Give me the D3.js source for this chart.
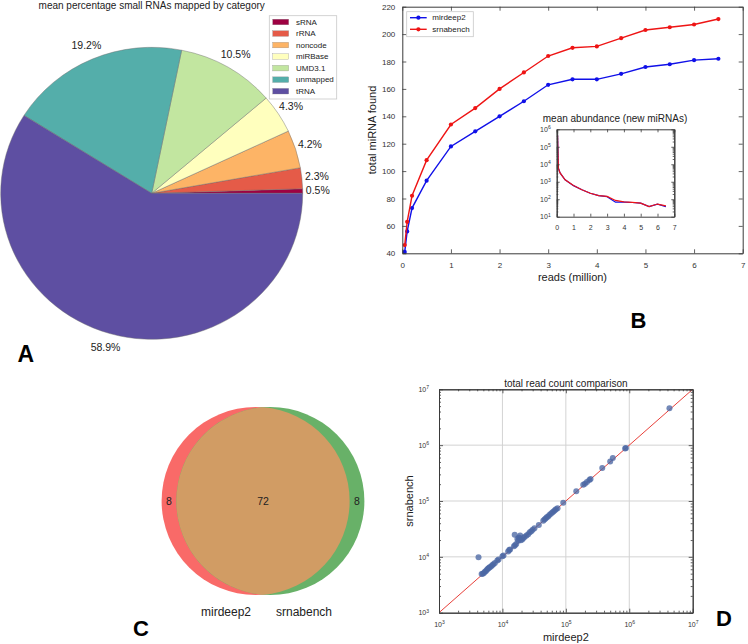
<!DOCTYPE html>
<html><head><meta charset="utf-8">
<script src="https://cdn.jsdelivr.net/npm/d3@7"></script>
<style>
body{margin:0;background:#fff}
text{font-family:"Liberation Sans",Arial,Helvetica,sans-serif}
</style>
</head><body>
<svg id="c" width="748" height="644"></svg>
<script>
// ---------- DATA ----------
// Panel A
const pieCategories = ["sRNA","rRNA","noncode","miRBase","UMD3.1","unmapped","tRNA"];
const piePercents   = [0.5, 2.3, 4.2, 4.3, 10.5, 19.2, 58.9];
const pieColors     = ["#9e0142","#e55b48","#fdb466","#ffffbe","#c2e6a0","#54aeaa","#5e4fa2"];
const pieTitle = "mean percentage small RNAs mapped by category";

// Panel B
const readsMillion   = [0.05,0.1,0.2,0.5,1,1.5,2,2.5,3,3.5,4,4.5,5,5.5,6,6.5];
const mirdeep2Found  = [41,56,73,93,118,129,140,151,163,167,167,171,176,178,181,182];
const srnabenchFound = [46,63,82,108,134,146,160,172,184,190,191,197,203,205,207,211];
const mirdeep2Abund  = [450000,6000,3200,1300,600,350,220,160,140,68,68,65,60,38,52,38];
const srnabenchAbund = [450000,6000,3200,1300,610,350,220,160,145,85,70,66,60,38,53,42];
const bXTicks = [0,1,2,3,4,5,6,7];
const bYTicks = [40,60,80,100,120,140,160,180,200,220];
const insetXTicks = [0,1,2,3,4,5,6,7];
const insetYTicks = [10,100,1000,10000,100000,1000000];
const seriesNames = ["mirdeep2","srnabench"];
const seriesColors = ["#1010e8","#ee1414"];

// Panel C
const vennLabels = ["mirdeep2","srnabench"];
const vennRegionCounts = [8, 72, 8]; // left only, both, right only
const vennColors = ["#f96a68","#d19c64","#68b168"];

// Panel D
const scatterMirdeep2 = [4200,4700,4900,5100,5300,5500,5700,5900,6100,6300,6600,6900,7200,7600,8300,8700,
  10000,10400,12300,12800,13200,15200,15800,16500,15600,17200,18200,19000,18700,17800,
  19500,20500,21500,22500,24000,25500,27000,28500,30000,32000,37500,
  44000,46000,48000,50000,52500,55000,58000,61000,64000,67000,70000,74000,91000,
  146000,188000,200000,215000,235000,245000,375000,500000,550000,860000,885000,4300000];
const scatterSrnabench = [9800,4950,5000,5150,5400,5600,5900,6100,6300,6500,6700,7100,7400,7800,8600,9000,
  10300,10600,12500,13200,13600,15500,16200,17000,24800,20800,22300,24000,21500,19500,
  19800,20500,21800,22800,24200,25500,27500,28800,30500,32500,37000,
  44500,46500,48500,51000,53000,56000,59000,62000,65000,68000,71000,74500,93000,
  150000,195000,203000,220000,238000,248000,390000,510000,590000,870000,890000,4600000];
const dTicks = [1e3,1e4,1e5,1e6,1e7];

// ---------- DRAW ----------
const svg = d3.select("#c");
const AX = "#3a3a3a", TX = "#333";
const intFmt = d3.format("d");

function styleAxis(g, fs){
  g.select(".domain").attr("stroke", AX).attr("stroke-width", 1);
  g.selectAll(".tick line").attr("stroke", AX).attr("stroke-width", 0.8);
  g.selectAll(".tick text").attr("fill", TX).attr("font-size", fs).attr("font-family", '"Liberation Sans",Arial,sans-serif');
}
function supLabels(g){
  g.selectAll(".tick text").each(function(d){
    const t = d3.select(this); t.text("");
    t.append("tspan").text("10");
    t.append("tspan").attr("dy","-0.55em").attr("font-size","0.72em").text(Math.round(Math.log10(d)));
  });
}

// ===== Panel A: pie =====
(function(){
  const cx = 151.7, cy = 193.3, rx = 151, ry = 146;
  const pie = d3.pie().sort(null).value(d=>d).startAngle(Math.PI/2).endAngle(Math.PI/2 - 2*Math.PI);
  const arcs = pie(piePercents);
  const arc = d3.arc().innerRadius(0).outerRadius(rx);
  const g = svg.append("g").attr("transform", `translate(${cx},${cy}) scale(1,${ry/rx})`);
  g.selectAll("path").data(arcs).join("path")
    .attr("d", arc).attr("fill", (d,i)=>pieColors[i])
    .attr("stroke", "#6e6e6e").attr("stroke-width", 0.45);
  svg.append("g").selectAll("text").data(arcs).join("text")
    .attr("x", d => cx + Math.sin((d.startAngle+d.endAngle)/2)*rx*1.1)
    .attr("y", d => cy - Math.cos((d.startAngle+d.endAngle)/2)*ry*1.1)
    .attr("dy","0.35em").attr("text-anchor","middle").attr("font-size", 10.5).attr("fill", "#222")
    .text(d => d.data.toFixed(1) + "%");
  svg.append("text").attr("x", 151.7).attr("y", 8.8).attr("text-anchor","middle")
    .attr("font-size", 10).attr("fill","#222").text(pieTitle);
  // legend
  const lg = svg.append("g").attr("transform","translate(269.3,15.7)");
  lg.append("rect").attr("width",67.4).attr("height",83.3).attr("fill","#fff").attr("stroke","#c8c8c8").attr("stroke-width",0.8);
  const rowY = d3.scaleLinear().domain([0, pieCategories.length-1]).range([6.3, 75.5]);
  pieCategories.forEach((c,i)=>{
    lg.append("rect").attr("x",3.4).attr("y",rowY(i)-2.8).attr("width",16).attr("height",5.6)
      .attr("fill",pieColors[i]).attr("stroke","#888").attr("stroke-width",0.3);
    lg.append("text").attr("x",26.7).attr("y",rowY(i)).attr("dy","0.35em").attr("font-size",8).attr("fill","#222").text(c);
  });
  svg.append("text").attr("x",17.5).attr("y",362).attr("font-size",23).attr("font-weight","bold").attr("fill","#000").text("A");
})();

// ===== Panel B =====
(function(){
  const L = 402.3, R = 742.7, T = 6.7, B = 253.3;
  const x = d3.scaleLinear().domain([0,7]).range([L,R]);
  const y = d3.scaleLinear().domain([40,220]).range([B,T]);
  const g = svg.append("g");
  g.append("rect").attr("x",L).attr("y",T).attr("width",R-L).attr("height",B-T).attr("fill","#fff");
  const series = [mirdeep2Found, srnabenchFound];
  const line = d3.line().x((d,i)=>x(readsMillion[i])).y(d=>y(d));
  series.forEach((s,k)=>{
    g.append("path").datum(s).attr("d", line).attr("fill","none").attr("stroke",seriesColors[k]).attr("stroke-width",1.4);
    g.append("g").selectAll("circle").data(s).join("circle")
      .attr("cx",(d,i)=>x(readsMillion[i])).attr("cy",d=>y(d)).attr("r",2.1).attr("fill",seriesColors[k]);
  });
  const ax = [
    g.append("g").attr("transform",`translate(0,${B})`).call(d3.axisBottom(x).tickValues(bXTicks).tickFormat(intFmt).tickSize(-4).tickSizeOuter(0).tickPadding(9)),
    g.append("g").attr("transform",`translate(${L},0)`).call(d3.axisLeft(y).tickValues(bYTicks).tickFormat(intFmt).tickSize(-4).tickSizeOuter(0).tickPadding(7)),
    g.append("g").attr("transform",`translate(0,${T})`).call(d3.axisTop(x).tickValues(bXTicks).tickSize(-4).tickSizeOuter(0).tickFormat("")),
    g.append("g").attr("transform",`translate(${R},0)`).call(d3.axisRight(y).tickValues(bYTicks).tickSize(-4).tickSizeOuter(0).tickFormat(""))
  ];
  ax.forEach(a=>styleAxis(a, 8));
  svg.append("text").attr("x",(L+R)/2).attr("y",280.5).attr("text-anchor","middle").attr("font-size",11).attr("fill","#222").text("reads (million)");
  svg.append("text").attr("transform",`translate(375.5,${(T+B)/2}) rotate(-90)`).attr("text-anchor","middle").attr("font-size",11).attr("fill","#222").text("total miRNA found");
  // legend
  const lg = svg.append("g").attr("transform","translate(406.7,11.7)");
  lg.append("rect").attr("width",66.6).attr("height",25).attr("fill","#fff").attr("stroke","#c8c8c8").attr("stroke-width",0.8);
  seriesNames.forEach((n,k)=>{
    const yy = 6 + k*11.6;
    lg.append("line").attr("x1",3.3).attr("x2",20).attr("y1",yy).attr("y2",yy).attr("stroke",seriesColors[k]).attr("stroke-width",1.4);
    lg.append("circle").attr("cx",11.7).attr("cy",yy).attr("r",2.1).attr("fill",seriesColors[k]);
    lg.append("text").attr("x",25.6).attr("y",yy).attr("dy","0.35em").attr("font-size",8).attr("fill","#222").text(n);
  });
  // inset
  const iL = 556.7, iR = 674.3, iT = 129.3, iB = 216.7;
  const ix = d3.scaleLinear().domain([0,7]).range([iL,iR]);
  const iy = d3.scaleLog().domain([10,1e6]).range([iB,iT]);
  const ig = svg.append("g");
  ig.append("rect").attr("x",iL).attr("y",iT).attr("width",iR-iL).attr("height",iB-iT).attr("fill","#fff");
  const iline = d3.line().x((d,i)=>ix(readsMillion[i])).y(d=>iy(d)).curve(d3.curveLinear);
  [mirdeep2Abund, srnabenchAbund].forEach((s,k)=>{
    ig.append("path").datum(s).attr("d", iline).attr("fill","none").attr("stroke",seriesColors[k]).attr("stroke-width",1.2);
  });
  const minors = iy.ticks().filter(v => !insetYTicks.includes(v));
  const ia = [
    ig.append("g").attr("transform",`translate(0,${iB})`).call(d3.axisBottom(ix).tickValues(insetXTicks).tickFormat(intFmt).tickSize(-3).tickSizeOuter(0).tickPadding(8)),
    ig.append("g").attr("transform",`translate(${iL},0)`).call(d3.axisLeft(iy).tickValues(insetYTicks).tickSize(-3).tickSizeOuter(0).tickPadding(6)),
    ig.append("g").attr("transform",`translate(0,${iT})`).call(d3.axisTop(ix).tickValues(insetXTicks).tickSize(-3).tickSizeOuter(0).tickFormat("")),
    ig.append("g").attr("transform",`translate(${iR},0)`).call(d3.axisRight(iy).tickValues(insetYTicks).tickSize(-3).tickSizeOuter(0).tickFormat("")),
    ig.append("g").attr("transform",`translate(${iL},0)`).call(d3.axisLeft(iy).tickValues(minors).tickSize(-1.6).tickSizeOuter(0).tickFormat("")),
    ig.append("g").attr("transform",`translate(${iR},0)`).call(d3.axisRight(iy).tickValues(minors).tickSize(-1.6).tickSizeOuter(0).tickFormat(""))
  ];
  ia.forEach(a=>styleAxis(a, 7));
  supLabels(ia[1]);
  svg.append("text").attr("x",615).attr("y",121.5).attr("text-anchor","middle").attr("font-size",10).attr("fill","#222").text("mean abundance (new miRNAs)");
  svg.append("text").attr("x",630.5).attr("y",328).attr("font-size",22).attr("font-weight","bold").attr("fill","#000").text("B");
})();

// ===== Panel C: Venn =====
(function(){
  const cx = 263, cy = 501, r = 94;
  const frac = vennRegionCounts[1] / (vennRegionCounts[0] + vennRegionCounts[1]);
  const lensFrac = d => { const u = d/(2*r); return (2*Math.acos(u) - 2*u*Math.sqrt(1-u*u)) / Math.PI; };
  let lo = 0, hi = 2*r;
  for (let i=0;i<60;i++){ const m=(lo+hi)/2; if (lensFrac(m) > frac) lo = m; else hi = m; }
  const d = (lo+hi)/2;
  const c1 = cx - d/2, c2 = cx + d/2, h = Math.sqrt(r*r - (d/2)*(d/2));
  const g = svg.append("g");
  g.append("circle").attr("cx",c1).attr("cy",cy).attr("r",r).attr("fill",vennColors[0]);
  g.append("circle").attr("cx",c2).attr("cy",cy).attr("r",r).attr("fill",vennColors[2]);
  const p = d3.path();
  p.moveTo(cx, cy-h);
  p.arc(c1, cy, r, Math.atan2(-h, d/2), Math.atan2(h, d/2), false);
  p.arc(c2, cy, r, Math.atan2(h, -d/2), Math.atan2(-h, -d/2), false);
  p.closePath();
  g.append("path").attr("d", p.toString()).attr("fill", vennColors[1]);
  const labX = [(c1 - r + (c2 - r))/2, cx, (c1 + r + (c2 + r))/2];
  vennRegionCounts.forEach((v,i)=>{
    g.append("text").attr("x",labX[i]).attr("y",cy).attr("dy","0.35em").attr("text-anchor","middle")
      .attr("font-size",10.5).attr("fill","#222").text(v);
  });
  g.append("text").attr("x",226).attr("y",615.5).attr("text-anchor","middle").attr("font-size",12).attr("fill","#222").text(vennLabels[0]);
  g.append("text").attr("x",304).attr("y",615.5).attr("text-anchor","middle").attr("font-size",12).attr("fill","#222").text(vennLabels[1]);
  svg.append("text").attr("x",133).attr("y",635.5).attr("font-size",22).attr("font-weight","bold").attr("fill","#000").text("C");
})();

// ===== Panel D: scatter =====
(function(){
  const L = 439, R = 692.7, T = 389.3, B = 612.7;
  const x = d3.scaleLog().domain([1e3,1e7]).range([L,R]);
  const y = d3.scaleLog().domain([1e3,1e7]).range([B,T]);
  const g = svg.append("g");
  g.append("rect").attr("x",L).attr("y",T).attr("width",R-L).attr("height",B-T).attr("fill","#fff");
  g.append("g").selectAll("line").data(dTicks.slice(1,-1)).join("line")
    .attr("x1",d=>x(d)).attr("x2",d=>x(d)).attr("y1",T).attr("y2",B).attr("stroke","#d3d3d3").attr("stroke-width",1);
  g.append("g").selectAll("line").data(dTicks.slice(1,-1)).join("line")
    .attr("y1",d=>y(d)).attr("y2",d=>y(d)).attr("x1",L).attr("x2",R).attr("stroke","#d3d3d3").attr("stroke-width",1);
  g.append("line").attr("x1",x(1e3)).attr("y1",y(1e3)).attr("x2",x(1e7)).attr("y2",y(1e7)).attr("stroke","#e8403a").attr("stroke-width",1);
  g.append("g").selectAll("circle").data(scatterMirdeep2).join("circle")
    .attr("cx",d=>x(d)).attr("cy",(d,i)=>y(scatterSrnabench[i])).attr("r",3)
    .attr("fill","#4c68a4").attr("fill-opacity",0.78);
  const minors = x.ticks().filter(v => !dTicks.includes(v));
  const da = [
    g.append("g").attr("transform",`translate(0,${B})`).call(d3.axisBottom(x).tickValues(dTicks).tickSize(-4).tickSizeOuter(0).tickPadding(9)),
    g.append("g").attr("transform",`translate(${L},0)`).call(d3.axisLeft(y).tickValues(dTicks).tickSize(-4).tickSizeOuter(0).tickPadding(10)),
    g.append("g").attr("transform",`translate(0,${T})`).call(d3.axisTop(x).tickValues(dTicks).tickSize(-4).tickSizeOuter(0).tickFormat("")),
    g.append("g").attr("transform",`translate(${R},0)`).call(d3.axisRight(y).tickValues(dTicks).tickSize(-4).tickSizeOuter(0).tickFormat("")),
    g.append("g").attr("transform",`translate(0,${B})`).call(d3.axisBottom(x).tickValues(minors).tickSize(-2).tickSizeOuter(0).tickFormat("")),
    g.append("g").attr("transform",`translate(${L},0)`).call(d3.axisLeft(y).tickValues(minors).tickSize(-2).tickSizeOuter(0).tickFormat("")),
    g.append("g").attr("transform",`translate(0,${T})`).call(d3.axisTop(x).tickValues(minors).tickSize(-2).tickSizeOuter(0).tickFormat("")),
    g.append("g").attr("transform",`translate(${R},0)`).call(d3.axisRight(y).tickValues(minors).tickSize(-2).tickSizeOuter(0).tickFormat(""))
  ];
  da.forEach(a=>styleAxis(a, 7));
  supLabels(da[0]); supLabels(da[1]);
  svg.append("text").attr("x",(L+R)/2).attr("y",386.5).attr("text-anchor","middle").attr("font-size",10).attr("fill","#222").text("total read count comparison");
  svg.append("text").attr("x",(L+R)/2).attr("y",641).attr("text-anchor","middle").attr("font-size",11).attr("fill","#222").text("mirdeep2");
  svg.append("text").attr("transform",`translate(413,${(T+B)/2}) rotate(-90)`).attr("text-anchor","middle").attr("font-size",11).attr("fill","#222").text("srnabench");
  svg.append("text").attr("x",716).attr("y",625.5).attr("font-size",22).attr("font-weight","bold").attr("fill","#000").text("D");
})();
</script>
</body></html>
